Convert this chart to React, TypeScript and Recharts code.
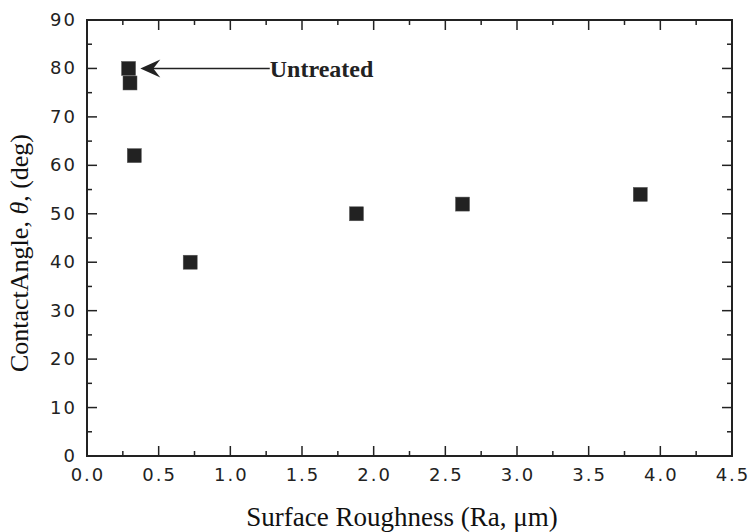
import React from 'react'
import { ScatterChart, Scatter, XAxis, YAxis, ReferenceLine, ReferenceArea } from 'recharts'

// surface roughness Ra (um) and contact angle (deg)
const roughness: number[] = [0.29, 0.3, 0.33, 0.72, 1.88, 2.62, 3.86]
const angle: number[] = [80, 77, 62, 40, 50, 52, 54]

const xTicks: number[] = [0, 0.25, 0.5, 0.75, 1, 1.25, 1.5, 1.75, 2, 2.25, 2.5, 2.75, 3, 3.25, 3.5, 3.75, 4, 4.25, 4.5]
const yTicks: number[] = [0, 5, 10, 15, 20, 25, 30, 35, 40, 45, 50, 55, 60, 65, 70, 75, 80, 85, 90]

const points = roughness.map((r, i) => ({ x: r, y: angle[i] }))

const ink = '#222'
const tickFont = '"DejaVu Sans", "Liberation Sans", Arial, sans-serif'
const serif = '"Liberation Serif", "Times New Roman", serif'

const isMajorX = (v: number) => Math.abs(v * 2 - Math.round(v * 2)) < 1e-6
const isMajorY = (v: number) => v % 10 === 0

const BottomTick = (props: any) => {
    const { x, y, payload } = props
    const major = isMajorX(payload.value)
    return (
        <g>
            <line x1={x} y1={y} x2={x} y2={y - (major ? 10 : 5)} stroke={ink} strokeWidth={1.5} />
            {major && (
                <text x={x + 1} y={y + 25} textAnchor="middle" fontSize={18} fill={ink} fontFamily={tickFont} letterSpacing={2}>
                    {payload.value.toFixed(1)}
                </text>
            )}
        </g>
    )
}

const TopTick = (props: any) => {
    const { x, y, payload } = props
    const major = isMajorX(payload.value)
    return <line x1={x} y1={y} x2={x} y2={y + (major ? 10 : 5)} stroke={ink} strokeWidth={1.5} />
}

const LeftTick = (props: any) => {
    const { x, y, payload } = props
    const major = isMajorY(payload.value)
    return (
        <g>
            <line x1={x} y1={y} x2={x + (major ? 10 : 5)} y2={y} stroke={ink} strokeWidth={1.5} />
            {major && (
                <text x={x - 10} y={y + 6} textAnchor="end" fontSize={18} fill={ink} fontFamily={tickFont} letterSpacing={2}>
                    {payload.value}
                </text>
            )}
        </g>
    )
}

const RightTick = (props: any) => {
    const { x, y, payload } = props
    const major = isMajorY(payload.value)
    return <line x1={x} y1={y} x2={x - (major ? 10 : 5)} y2={y} stroke={ink} strokeWidth={1.5} />
}

const SquareDot = (props: any) => {
    const { cx, cy } = props
    return <rect x={cx - 7} y={cy - 7} width={14} height={14} fill={ink} stroke="#555" strokeWidth={0.5} />
}

const NoDot = () => null

const Arrow = (props: any) => {
    const { x1, y1, x2, y2 } = props
    return (
        <g>
            <line x1={x1 + 12} y1={y1} x2={x2} y2={y2} stroke={ink} strokeWidth={1.5} />
            <path d={`M${x1},${y1} L${x1 + 20},${y1 - 9} L${x1 + 13},${y1} L${x1 + 20},${y1 + 9} Z`} fill={ink} />
            <text x={x2} y={y2 + 9} fontSize={24} fontWeight="bold" fill={ink} fontFamily={serif}>
                Untreated
            </text>
        </g>
    )
}

const App = () => {
    return (
        <div style={{ position: 'absolute', left: 0, top: 0, background: '#fff' }}>
            <ScatterChart width={751} height={532} margin={{ top: 19, right: 18, left: 0, bottom: 0 }}>
                <XAxis
                    type="number"
                    dataKey="x"
                    domain={[0, 4.5]}
                    ticks={xTicks}
                    interval={0}
                    height={76}
                    tickSize={0}
                    tickMargin={0}
                    tickLine={false}
                    tick={<BottomTick />}
                    axisLine={{ stroke: ink, strokeWidth: 2 }}
                    allowDataOverflow
                />
                <XAxis
                    xAxisId="top"
                    orientation="top"
                    type="number"
                    dataKey="x"
                    domain={[0, 4.5]}
                    ticks={xTicks}
                    interval={0}
                    height={1}
                    tickSize={0}
                    tickMargin={0}
                    tickLine={false}
                    tick={<TopTick />}
                    axisLine={{ stroke: ink, strokeWidth: 2 }}
                    allowDataOverflow
                />
                <YAxis
                    type="number"
                    dataKey="y"
                    domain={[0, 90]}
                    ticks={yTicks}
                    interval={0}
                    width={87}
                    tickSize={0}
                    tickMargin={0}
                    tickLine={false}
                    tick={<LeftTick />}
                    axisLine={{ stroke: ink, strokeWidth: 2 }}
                    allowDataOverflow
                    label={{
                        value: 'ContactAngle, θ, (deg)',
                        position: 'insideLeft',
                        content: (p: any) => {
                            const vb = p.viewBox
                            const cx = 28
                            const cy = vb.y + vb.height / 2 + 15
                            return (
                                <text
                                    x={cx}
                                    y={cy}
                                    transform={`rotate(-90, ${cx}, ${cy})`}
                                    textAnchor="middle"
                                    fontSize={26}
                                    fill="#111"
                                    fontFamily={serif}
                                >
                                    ContactAngle, <tspan fontStyle="italic">θ</tspan>, (deg)
                                </text>
                            )
                        }
                    }}
                />
                <YAxis
                    yAxisId="right"
                    orientation="right"
                    type="number"
                    dataKey="y"
                    domain={[0, 90]}
                    ticks={yTicks}
                    interval={0}
                    width={1}
                    tickSize={0}
                    tickMargin={0}
                    tickLine={false}
                    tick={<RightTick />}
                    axisLine={{ stroke: ink, strokeWidth: 2 }}
                    allowDataOverflow
                />
                <ReferenceArea x1={0} x2={4.5} y1={0} y2={90} fill="none" stroke={ink} strokeWidth={2} ifOverflow="visible" />
                <Scatter data={points} shape={<SquareDot />} isAnimationActive={false} />
                <Scatter
                    data={points}
                    xAxisId="top"
                    yAxisId="right"
                    shape={<NoDot />}
                    legendType="none"
                    isAnimationActive={false}
                />
                <ReferenceLine
                    segment={[{ x: 0.372, y: 80 }, { x: 1.275, y: 80 }]}
                    shape={<Arrow />}
                    ifOverflow="visible"
                />
                <text x={402} y={526} textAnchor="middle" fontSize={27} fill="#111" fontFamily={serif}>
                    Surface Roughness (Ra, μm)
                </text>
            </ScatterChart>
        </div>
    )
}

export default App
